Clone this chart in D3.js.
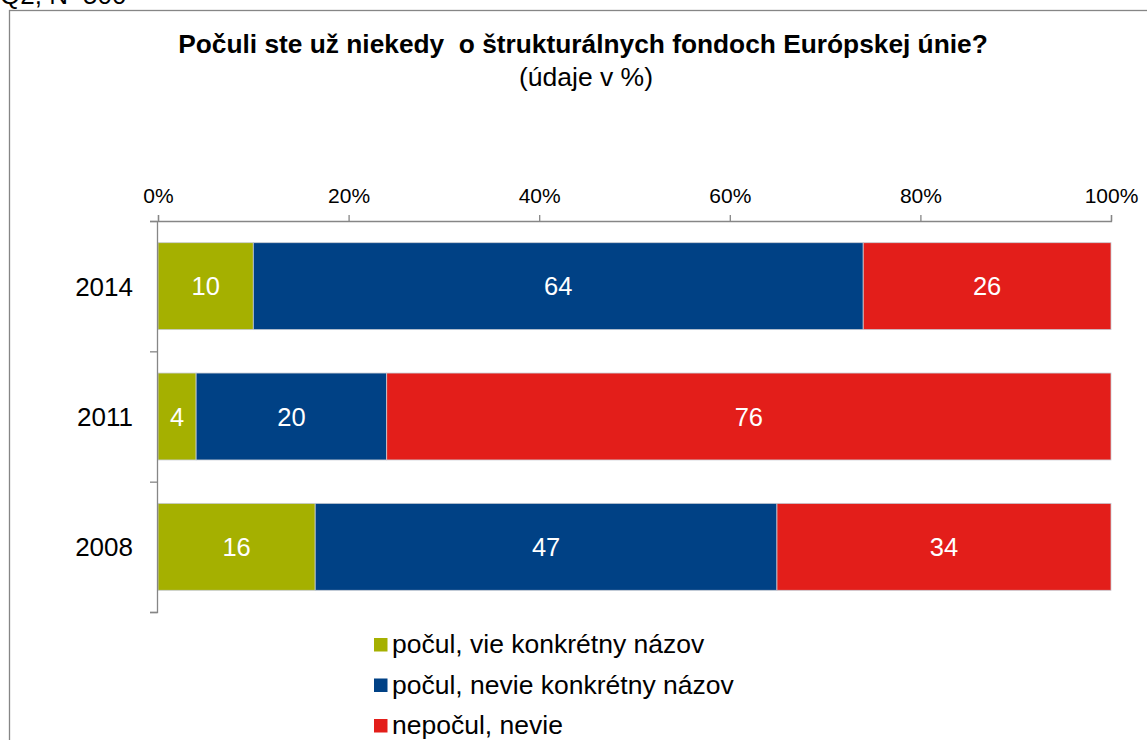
<!DOCTYPE html>
<html>
<head>
<meta charset="utf-8">
<script src="https://cdn.jsdelivr.net/npm/d3@7"></script>
<style>
  html, body { margin: 0; padding: 0; background: #fff; }
  svg { display: block; font-family: "Liberation Sans", Arial, sans-serif; }
</style>
</head>
<body>
<svg id="chart"></svg>
<script>
// Daten
const years  = ["2014", "2011", "2008"];
const series = ["počul, vie konkrétny názov", "počul, nevie konkrétny názov", "nepočul, nevie"];
const heardKnows    = [10, 4, 16];
const heardNotKnows = [64, 20, 47];
const notHeard      = [26, 76, 34];
const tickValues = [0, 0.2, 0.4, 0.6, 0.8, 1];
const colors = ["#a5b000", "#004185", "#e31e1a"];

const width = 1147, height = 740;
const svg = d3.select("#chart")
  .attr("width", width)
  .attr("height", height)
  .attr("viewBox", `0 0 ${width} ${height}`);

// Rahmen
svg.append("rect")
  .attr("x", 9.5).attr("y", 10.5)
  .attr("width", width).attr("height", height)
  .attr("fill", "none")
  .attr("stroke", "#868686")
  .attr("stroke-width", 1.3);

svg.append("text")
  .attr("x", 0).attr("y", 4)
  .attr("font-size", "26px")
  .attr("fill", "#000")
  .text("Q2, N=500");

// Titel
svg.append("text")
  .attr("x", 583).attr("y", 53)
  .attr("text-anchor", "middle")
  .attr("font-size", "26.3px")
  .attr("font-weight", "bold")
  .attr("xml:space", "preserve")
  .style("white-space", "pre")
  .text("Počuli ste už niekedy  o štrukturálnych fondoch Európskej únie?");

svg.append("text")
  .attr("x", 586).attr("y", 86)
  .attr("text-anchor", "middle")
  .attr("font-size", "26.5px")
  .text("(údaje v %)");

const table = years.map((y, i) => ({
  year: y, a: heardKnows[i], b: heardNotKnows[i], c: notHeard[i]
}));
const keys = ["a", "b", "c"];

const stack = d3.stack().keys(keys).offset(d3.stackOffsetExpand);
const stacked = stack(table);

const x = d3.scaleLinear().domain([0, 1]).range([158, 1111]);
const y = d3.scaleBand().domain(years).range([221, 612]).paddingInner(0.333).paddingOuter(0.1665);
const yEdge = d3.scaleLinear().domain([0, years.length]).range([221, 612]);

// Balken
const layers = svg.append("g").selectAll("g")
  .data(stacked)
  .join("g")
  .attr("fill", (d, i) => colors[i]);

layers.selectAll("rect")
  .data(d => d.map(p => ({ p, key: d.key })))
  .join("rect")
  .attr("x", d => x(d.p[0]))
  .attr("y", d => y(d.p.data.year))
  .attr("width", d => x(d.p[1]) - x(d.p[0]))
  .attr("height", y.bandwidth())
  .attr("stroke", "#c8ccd4")
  .attr("stroke-width", 0.8);

layers.selectAll("text")
  .data(d => d.map(p => ({ p, key: d.key })))
  .join("text")
  .attr("x", d => (x(d.p[0]) + x(d.p[1])) / 2)
  .attr("y", d => y(d.p.data.year) + y.bandwidth() / 2)
  .attr("dy", "0.36em")
  .attr("text-anchor", "middle")
  .attr("fill", "#fff")
  .attr("font-size", "25.5px")
  .text(d => d.p.data[d.key]);

// Achsen
const axTop = svg.append("g")
  .attr("transform", "translate(0,221)")
  .call(d3.axisTop(x).tickValues(tickValues).tickFormat(d3.format(".0%")).tickSize(6).tickSizeOuter(6));
axTop.selectAll("path, line").attr("stroke", "#868686").attr("stroke-width", 1.3);
axTop.selectAll("text").attr("font-size", "21px").attr("fill", "#000").attr("y", -18)
  .attr("font-family", "Liberation Sans, Arial, sans-serif");

const axLeft = svg.append("g")
  .attr("transform", "translate(157,0)")
  .call(d3.axisLeft(yEdge).tickValues([0, 1, 2, 3]).tickFormat("").tickSize(7).tickSizeOuter(7));
axLeft.selectAll("path, line").attr("stroke", "#868686").attr("stroke-width", 1.3);

svg.append("g").selectAll("text")
  .data(years)
  .join("text")
  .attr("x", 133)
  .attr("y", d => y(d) + y.bandwidth() / 2)
  .attr("dy", "0.36em")
  .attr("text-anchor", "end")
  .attr("font-size", "26px")
  .text(d => d);

// Legende
const legend = svg.append("g").selectAll("g")
  .data(series)
  .join("g")
  .attr("transform", (d, i) => `translate(374,${645 + i * 40.5})`);

legend.append("rect")
  .attr("x", 0).attr("y", -7)
  .attr("width", 13.5).attr("height", 13.5)
  .attr("fill", (d, i) => colors[i]);

legend.append("text")
  .attr("x", 18).attr("y", 8)
  .attr("font-size", "26.5px")
  .text(d => d);
</script>
</body>
</html>
